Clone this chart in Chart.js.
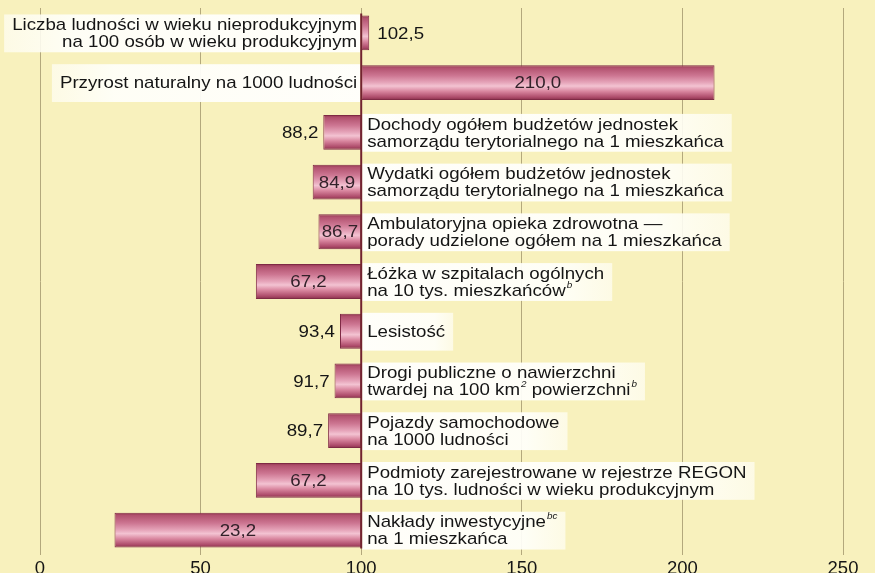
<!DOCTYPE html>
<html>
<head>
<meta charset="utf-8">
<script src="https://cdn.jsdelivr.net/npm/chart.js@4/dist/chart.umd.min.js"></script>
<style>
  html, body { margin: 0; padding: 0; background: #f8f1bd; }
  #wrap { width: 875px; height: 573px; position: relative; }
</style>
</head>
<body>
<div id="wrap"><canvas id="c" width="875" height="573"></canvas></div>
<script>
// ---- data ----
const categories = [
  ["Liczba ludności w wieku nieprodukcyjnym", "na 100 osób w wieku produkcyjnym"],
  ["Przyrost naturalny na 1000 ludności"],
  ["Dochody ogółem budżetów jednostek", "samorządu terytorialnego na 1 mieszkańca"],
  ["Wydatki ogółem budżetów jednostek", "samorządu terytorialnego na 1 mieszkańca"],
  ["Ambulatoryjna opieka zdrowotna —", "porady udzielone ogółem na 1 mieszkańca"],
  ["Łóżka w szpitalach ogólnych", "na 10 tys. mieszkańców^b"],
  ["Lesistość"],
  ["Drogi publiczne o nawierzchni", "twardej na 100 km^2 powierzchni^b"],
  ["Pojazdy samochodowe", "na 1000 ludności"],
  ["Podmioty zarejestrowane w rejestrze REGON", "na 10 tys. ludności w wieku produkcyjnym"],
  ["Nakłady inwestycyjne^bc", "na 1 mieszkańca"]
];
const values = [102.5, 210.0, 88.2, 84.9, 86.7, 67.2, 93.4, 91.7, 89.7, 67.2, 23.2];
const baseValue = 100;
const xTicks = [0, 50, 100, 150, 200, 250];

// ---- style ----
const FONT = '"Liberation Sans", Arial, Helvetica, sans-serif';
const FS = 17;
const SX = 1.1;
const BAR_PCT = 0.7;
const BG = '#f8f1bd';

function fmt(v) { return v.toFixed(1).replace('.', ','); }

function parseSegs(line) {
  const segs = [];
  const re = /\^(\w+)/g;
  let last = 0, m;
  while ((m = re.exec(line)) !== null) {
    if (m.index > last) segs.push({t: line.slice(last, m.index), sup: false});
    segs.push({t: m[1], sup: true});
    last = re.lastIndex;
  }
  if (last < line.length) segs.push({t: line.slice(last), sup: false});
  return segs;
}
function setFont(ctx, sup) {
  ctx.font = sup ? ('italic 9px ' + FONT) : (FS + 'px ' + FONT);
}
function textW(ctx, t) { return ctx.measureText(t).width * SX; }
function lineWidth(ctx, line) {
  let w = 0;
  for (const s of parseSegs(line)) { setFont(ctx, s.sup); w += textW(ctx, s.t) + (s.sup ? 1 : 0); }
  return w;
}
function fillScaled(ctx, t, x, y) {
  ctx.save();
  ctx.translate(x, y);
  ctx.scale(SX, 1);
  ctx.fillText(t, 0, 0);
  ctx.restore();
}
function drawLine(ctx, line, x, y) {
  for (const s of parseSegs(line)) {
    setFont(ctx, s.sup);
    ctx.textAlign = 'left';
    ctx.textBaseline = 'middle';
    fillScaled(ctx, s.t, x + (s.sup ? 1 : 0), s.sup ? y - 6 : y);
    x += textW(ctx, s.t) + (s.sup ? 1 : 0);
  }
}

function barGeom(chart, i) {
  const ys = chart.scales.y;
  const area = chart.chartArea;
  const cat = (area.bottom - area.top) / categories.length;
  const yc = ys.getPixelForValue(i);
  const h = cat * BAR_PCT;
  return {yc, top: yc - h / 2, bottom: yc + h / 2, h};
}

const bgPlugin = {
  id: 'bg',
  beforeDraw(chart) {
    const ctx = chart.ctx;
    ctx.save();
    ctx.fillStyle = BG;
    ctx.fillRect(0, 0, chart.width, chart.height);
    ctx.restore();
  }
};

const labelPlugin = {
  id: 'labels',
  beforeDatasetsDraw(chart) {
    const ctx = chart.ctx;
    const xs = chart.scales.x;
    const p100 = xs.getPixelForValue(baseValue);
    ctx.save();
    categories.forEach((lines, i) => {
      const g = barGeom(chart, i);
      const widths = lines.map(l => lineWidth(ctx, l));
      const maxW = Math.max(...widths);
      const right = values[i] < baseValue;
      const bx0 = right ? p100 + 1 : Math.max(2, p100 - 4 - maxW - 8);
      const bx1 = right ? p100 + 6 + maxW + 8 : p100 - 1;
      const by0 = g.top - 1, by1 = g.bottom + 2;
      const grad = ctx.createLinearGradient(bx0, 0, bx1, 0);
      if (right) {
        grad.addColorStop(0, 'rgba(255,255,252,0.97)');
        grad.addColorStop(0.8, 'rgba(255,255,250,0.93)');
        grad.addColorStop(1, 'rgba(254,252,236,0.85)');
      } else {
        grad.addColorStop(0, 'rgba(254,252,236,0.85)');
        grad.addColorStop(0.2, 'rgba(255,255,250,0.93)');
        grad.addColorStop(1, 'rgba(255,255,252,0.97)');
      }
      ctx.fillStyle = grad;
      ctx.fillRect(bx0, by0, bx1 - bx0, by1 - by0);
      ctx.fillStyle = '#151515';
      const n = lines.length;
      const step = 17;
      lines.forEach((l, k) => {
        const y = g.yc + (k - (n - 1) / 2) * step + 1;
        const x = right ? p100 + 6 : p100 - 4 - widths[k];
        drawLine(ctx, l, x, y);
      });
    });
    ctx.restore();
  },
  afterDatasetsDraw(chart) {
    const ctx = chart.ctx;
    const xs = chart.scales.x;
    const p100 = xs.getPixelForValue(baseValue);
    const g0 = barGeom(chart, 0), gN = barGeom(chart, categories.length - 1);
    ctx.save();
    // base line at 100
    ctx.strokeStyle = '#72232f';
    ctx.lineWidth = 2;
    ctx.beginPath();
    ctx.moveTo(p100, g0.top - 2);
    ctx.lineTo(p100, gN.bottom + 1);
    ctx.stroke();
    // value labels
    ctx.font = FS + 'px ' + FONT;
    ctx.textBaseline = 'middle';
    ctx.textAlign = 'left';
    values.forEach((v, i) => {
      const g = barGeom(chart, i);
      const pv = xs.getPixelForValue(v);
      const txt = fmt(v);
      const w = textW(ctx, txt);
      const inside = Math.abs(v - baseValue) > 12;
      if (inside) {
        ctx.fillStyle = '#33222a';
        fillScaled(ctx, txt, (pv + p100) / 2 - w / 2, g.yc + 1);
      } else if (v < baseValue) {
        ctx.fillStyle = '#151515';
        fillScaled(ctx, txt, pv - 5 - w, g.yc + 1);
      } else {
        ctx.fillStyle = '#151515';
        fillScaled(ctx, txt, pv + 8, g.yc + 1);
      }
    });
    ctx.restore();
  }
};

function barFill(context) {
  const chart = context.chart;
  if (!chart.chartArea || !chart.scales.y) return '#c45d80';
  const g = barGeom(chart, context.dataIndex);
  const grad = chart.ctx.createLinearGradient(0, g.top, 0, g.bottom);
  grad.addColorStop(0, '#93344f');
  grad.addColorStop(0.08, '#b2526f');
  grad.addColorStop(0.3, '#cd7692');
  grad.addColorStop(0.5, '#e6a5ba');
  grad.addColorStop(0.6, '#f3c3d2');
  grad.addColorStop(0.75, '#d9869f');
  grad.addColorStop(0.92, '#ad4b6a');
  grad.addColorStop(1, '#873049');
  return grad;
}

new Chart(document.getElementById('c'), {
  type: 'bar',
  data: {
    labels: categories.map(c => c.join(' ')),
    datasets: [{
      data: values.map(v => [v, baseValue]),
      backgroundColor: barFill,
      borderColor: '#7f2a45',
      borderWidth: 1,
      borderSkipped: false,
      categoryPercentage: 1,
      barPercentage: BAR_PCT
    }]
  },
  options: {
    indexAxis: 'y',
    responsive: false,
    animation: false,
    layout: { padding: { left: 40, right: 32, top: 8, bottom: 0 } },
    plugins: { legend: { display: false }, tooltip: { enabled: false } },
    scales: {
      y: { display: false },
      x: {
        min: 0, max: 250,
        afterBuildTicks(scale) { scale.ticks = xTicks.map(v => ({value: v})); },
        afterFit(scale) { scale.height = 18; },
        ticks: { color: '#151515', font: { family: FONT, size: 18.5 }, padding: 3, maxRotation: 0 },
        grid: { color: '#b3a87c', lineWidth: 1, drawTicks: false },
        border: { display: false }
      }
    }
  },
  plugins: [bgPlugin, labelPlugin]
});
</script>
</body>
</html>
